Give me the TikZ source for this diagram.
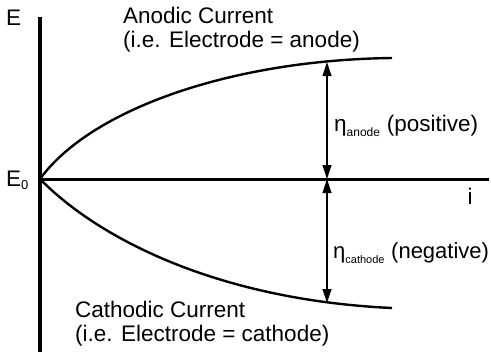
\documentclass[tikz,border=0pt]{standalone}
\usepackage{fontspec}
\setmainfont{Liberation Sans}
\usetikzlibrary{arrows.meta}
\begin{document}
\begin{tikzpicture}[x=1pt, y=-1pt,
  every node/.style={font=\fontsize{22.5}{24}\selectfont, inner sep=0pt},
  axis/.style={line width=3.6pt},
  curve/.style={line width=2.4pt},
  eta/.style={{Triangle[length=14pt,width=9pt]}-{Triangle[length=14pt,width=9pt]}, line width=1.2pt},
  lbl/.style={anchor=west, align=left}]
\useasboundingbox (0,0) rectangle (491,354);
% axes
\coordinate (top) at (40,17);
\coordinate (bot) at (40,352);
\coordinate (O) at (40,179);
\coordinate (iend) at (489,179);
\draw[axis] (top) -- (bot);
\draw[line width=3pt] (O) -- (iend);
\node[anchor=west] (E) at (6,18) {E};
\node[anchor=west] (E0) at (6,180) {E\textsubscript{\fontsize{13}{13}\selectfont 0}};
\node (i) at (470,196) {i};
% anodic and cathodic branches
\coordinate (aend) at (392,58);
\coordinate (cend) at (392,308);
\draw[curve] (O) .. controls (90,110) and (230,60) .. (aend);
\draw[curve] (O) .. controls (100,240) and (220,300) .. (cend);
% overpotentials
\coordinate (ea) at (327,62);
\coordinate (e0) at (327,179);
\coordinate (ec) at (327,303);
\draw[eta] (ea) -- (e0);
\draw[eta] (e0) -- (ec);
\node[lbl] (anode) at (123,30) {Anodic Current\\(i.e. Electrode = anode)};
\node[lbl] (cathode) at (75,324) {Cathodic Current\\(i.e. Electrode = cathode)};
\node[lbl] (etaa) at (334,126) {η\raisebox{-2pt}{\textsubscript{\fontsize{12}{12}\selectfont anode}} (positive)};
\node[lbl, font=\fontsize{22}{24}\selectfont] (etac) at (333,253) {η\raisebox{-2pt}{\textsubscript{\fontsize{11}{12}\selectfont cathode}} (negative)};
\end{tikzpicture}
\end{document}
